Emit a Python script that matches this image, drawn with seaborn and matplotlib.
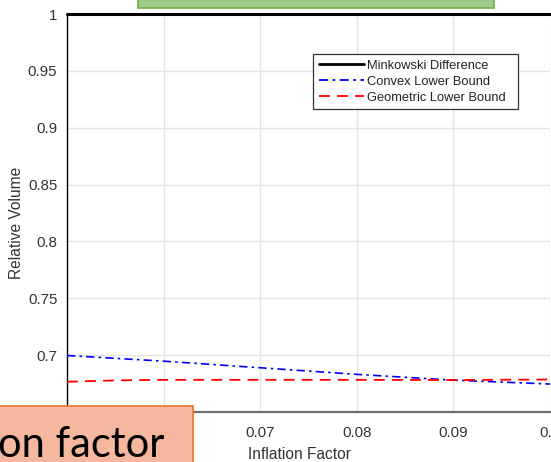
import matplotlib
matplotlib.use("Agg")
import matplotlib.pyplot as plt
import matplotlib.patches as mpatches
import numpy as np
import pandas as pd
import seaborn as sns

# Inflation factor samples and relative volumes of each approximation
inflation = [0.05, 0.055, 0.06, 0.07, 0.08, 0.09, 0.10]
minkowski = [1.0, 1.0, 1.0, 1.0, 1.0, 1.0, 1.0]
convex_lb = [0.6997, 0.6972, 0.6947, 0.6889, 0.6831, 0.6780, 0.6746]
geometric_lb = [0.6766, 0.6778, 0.6783, 0.6783, 0.6783, 0.6781, 0.6786]

series_names = ["Minkowski Difference", "Convex Lower Bound", "Geometric Lower Bound"]
x_ticks = [0.06, 0.07, 0.08, 0.09, 0.10]
x_tick_labels = ["0.06", "0.07", "0.08", "0.09", "0.1"]
y_ticks = [0.7, 0.75, 0.8, 0.85, 0.9, 0.95, 1.0]
y_tick_labels = ["0.7", "0.75", "0.8", "0.85", "0.9", "0.95", "1"]

df = pd.DataFrame({
    "Inflation Factor": inflation * 3,
    "Relative Volume": minkowski + convex_lb + geometric_lb,
    "Method": [series_names[0]] * len(inflation)
    + [series_names[1]] * len(inflation)
    + [series_names[2]] * len(inflation),
})

sns.set_style("white")
plt.rcParams["font.family"] = ["Liberation Sans", "DejaVu Sans"]

fig = plt.figure(figsize=(5.51, 4.62), dpi=100)
ax = fig.add_axes([67 / 551, 1 - 412 / 462, (550 - 67) / 551, (412 - 14) / 462])

palette = {series_names[0]: "black", series_names[1]: "blue", series_names[2]: "red"}
sns.lineplot(data=df, x="Inflation Factor", y="Relative Volume", hue="Method",
             palette=palette, ax=ax, legend=False, estimator=None, sort=True)

styles = [dict(lw=2.2, ls="-"), dict(lw=1.2, dashes=(5, 2.5, 1.5, 2.5)), dict(lw=1.3, dashes=(6, 4))]
for line, st in zip(ax.lines, styles):
    line.set_linewidth(st["lw"])
    if "dashes" in st:
        line.set_dashes(st["dashes"])
    line.set_clip_on(False)
    line.set_zorder(3)

ax.set_xlim(0.05, 0.10)
ax.set_ylim(0.65, 1.0)
ax.set_xticks(x_ticks)
ax.set_xticklabels(x_tick_labels)
ax.set_yticks(y_ticks)
ax.set_yticklabels(y_tick_labels)
ax.grid(True, color="#e4e4e4", lw=1)
ax.set_axisbelow(True)

for s in ["top", "right"]:
    ax.spines[s].set_visible(False)
ax.spines["left"].set_color("black")
ax.spines["left"].set_linewidth(1.0)
ax.spines["bottom"].set_color("#6e6e6e")
ax.spines["bottom"].set_linewidth(1.6)

ax.tick_params(axis="x", direction="in", length=4, width=1, color="#555555",
               labelsize=10.8, labelcolor="#333333", pad=10)
ax.tick_params(axis="y", length=0, labelsize=10.8, labelcolor="#333333", pad=7)

ax.set_xlabel("Inflation Factor", fontsize=11.2, color="#333333")
ax.set_ylabel("Relative Volume", fontsize=11.2, color="#333333")
ax.xaxis.set_label_coords((299 - 67) / (550 - 67), -0.088)
ax.yaxis.set_label_coords(-0.09, 0.475)

handles = [plt.Line2D([], [], color="black", lw=2.0),
           plt.Line2D([], [], color="blue", lw=1.3, dashes=(5, 2.5, 1.5, 2.5)),
           plt.Line2D([], [], color="red", lw=1.3, dashes=(6, 4))]
leg = fig.legend(handles, series_names, loc="upper left", mode="expand",
                 bbox_to_anchor=(313 / 551, 1 - 109 / 462, (518 - 313) / 551, 55 / 462),
                 fontsize=9.3, frameon=True, fancybox=False, framealpha=1, edgecolor="#333333",
                 handlelength=3.5, handletextpad=0.23, labelspacing=0.3,
                 borderpad=0.45, borderaxespad=0)
leg.get_frame().set_linewidth(0.9)
for t in leg.get_texts():
    t.set_color("#222222")

# Slide overlays: green banner at the top and orange caption box at the bottom left
fig.patches.append(mpatches.Rectangle((138 / 551, 1 - 8 / 462), (494 - 138) / 551, 0.05,
                                      transform=fig.transFigure, facecolor="#a0cc8b",
                                      edgecolor="#70ad47", lw=1.2, zorder=10))
fig.patches.append(mpatches.Rectangle((-0.01, -0.01), 193 / 551 + 0.01, (462 - 406) / 462 + 0.01,
                                      transform=fig.transFigure, facecolor="#f5b79d",
                                      edgecolor="#ed7d31", lw=1.3, zorder=10))
fig.text(-2 / 551, 1 - 457 / 462, "on factor", fontsize=30, family=["Lato", "DejaVu Sans"],
         color="black", ha="left", va="baseline", zorder=11)

fig.savefig("out.png", dpi=100)
